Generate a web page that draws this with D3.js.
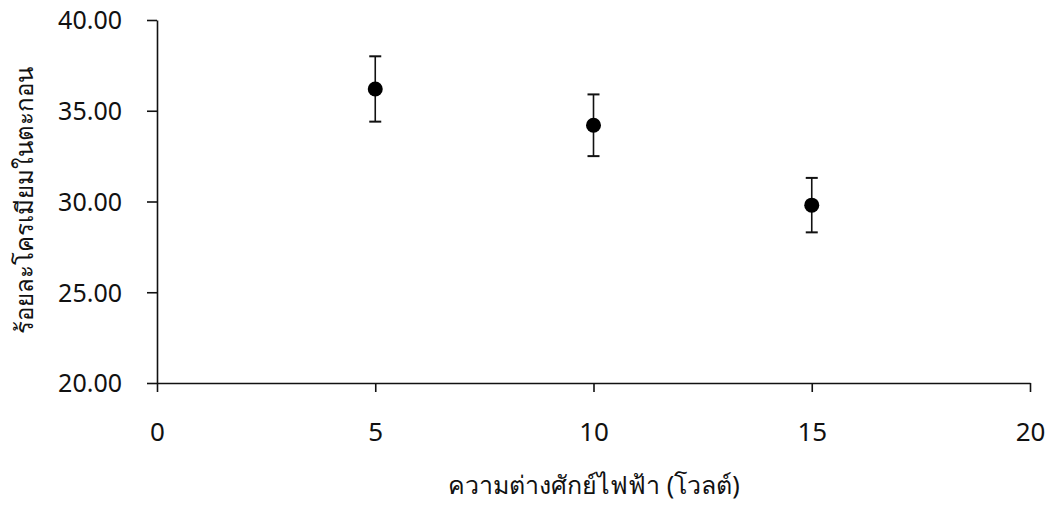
<!DOCTYPE html>
<html><head><meta charset="utf-8">
<script src="https://cdn.jsdelivr.net/npm/d3@7"></script>
<style>body{margin:0;background:#fff}</style>
</head><body>
<svg id="c" width="1054" height="505"></svg>
<script>
const voltage = [5, 10, 15];
const percent = [36.2, 34.2, 29.8];
const errors = [1.8, 1.7, 1.5];
const xTicks = [0, 5, 10, 15, 20];
const yTicks = [20, 25, 30, 35, 40];
const xTitle = "ความต่างศักย์ไฟฟ้า (โวลต์)";
const yTitle = "ร้อยละโครเมียมในตะกอน";

const svg = d3.select("#c");
const font = "'Noto Sans', 'DejaVu Sans', sans-serif";
const x = d3.scaleLinear().domain([0, 20]).range([157, 1030]);
const y = d3.scaleLinear().domain([20, 40]).range([383, 20]);

const xa = svg.append("g").attr("transform", `translate(0,${y(20)})`)
  .call(d3.axisBottom(x).tickValues(xTicks).tickFormat(d3.format("d")).tickSize(9).tickSizeOuter(0).tickPadding(31));
const ya = svg.append("g").attr("transform", `translate(${x(0)},0)`)
  .call(d3.axisLeft(y).tickValues(yTicks).tickFormat(d3.format(".2f")).tickSize(10).tickSizeOuter(0).tickPadding(25));
[xa, ya].forEach(a => {
  a.selectAll("path,line").attr("stroke", "#111").attr("stroke-width", 1.6);
  a.selectAll("text").attr("fill", "#111").style("font-family", font);
});
xa.selectAll("text").style("font-size", "26px");
ya.selectAll("text").style("font-size", "25px").attr("dy", "0.35em");

const g = svg.append("g");
voltage.forEach((v, i) => {
  const cx = x(v), top = y(percent[i] + errors[i]), bot = y(percent[i] - errors[i]);
  g.append("line").attr("x1", cx).attr("x2", cx).attr("y1", top).attr("y2", bot).attr("stroke", "#111").attr("stroke-width", 1.6);
  [top, bot].forEach(yy => g.append("line").attr("x1", cx - 6).attr("x2", cx + 6).attr("y1", yy).attr("y2", yy).attr("stroke", "#111").attr("stroke-width", 2));
  g.append("circle").attr("cx", cx).attr("cy", y(percent[i])).attr("r", 7.5).attr("fill", "#000");
});

svg.append("text").attr("x", 594).attr("y", 494).attr("text-anchor", "middle")
  .style("font-family", font).style("font-size", "25px").attr("fill", "#111").text(xTitle);
svg.append("text").attr("transform", "translate(33,200) rotate(-90)").attr("text-anchor", "middle")
  .style("font-family", font).style("font-size", "24px").attr("fill", "#111").text(yTitle);
</script>
</body></html>
